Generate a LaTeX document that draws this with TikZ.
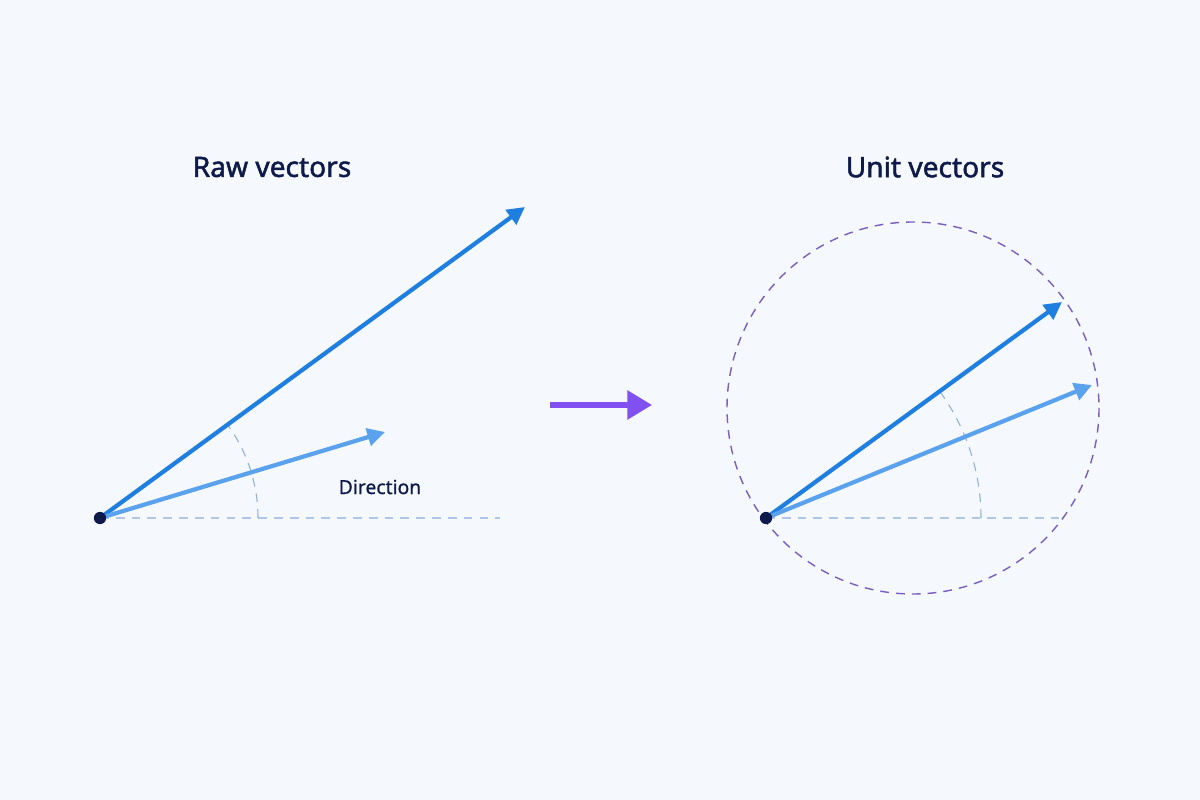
\documentclass[tikz,border=0pt]{standalone}
\usepackage{fontspec}
\setmainfont{Noto Sans}
\newfontfamily\medfont[FakeBold=1.6]{Noto Sans}
\newfontfamily\lblfont[FakeBold=0.8]{Noto Sans}
\usetikzlibrary{arrows.meta}
\definecolor{bg}{HTML}{F5F8FC}
\definecolor{vlong}{HTML}{1E7FE0}
\definecolor{vshort}{HTML}{5AA2EE}
\definecolor{navy}{HTML}{0D1A4A}
\definecolor{hdash}{HTML}{AFC6EA}
\definecolor{arcc}{HTML}{8DB0DD}
\definecolor{circ}{HTML}{7A5FC0}
\definecolor{mid}{HTML}{8050F0}
\tikzset{
  long/.style={vlong, line width=2.4pt, -{Triangle[length=10pt,width=10pt]}},
  short/.style={vshort, line width=2.4pt, -{Triangle[length=10pt,width=10pt]}},
  hd/.style={hdash, line width=0.6pt, dash pattern=on 5pt off 4pt},
  ad/.style={arcc, line width=0.6pt, dash pattern=on 5pt off 4pt},
  title/.style={text=navy, font=\medfont\fontsize{16}{18}\selectfont},
  dot/.style={circle, fill=navy, inner sep=0pt, minimum size=7pt}
}
\begin{document}
\begin{tikzpicture}[x=0.02cm,y=-0.02cm]
\fill[bg] (0,0) rectangle (1200,800);
\useasboundingbox (0,0) rectangle (1200,800);
% left
\node[title] (t1) at (272,167) {Raw vectors};
\coordinate (o1) at (100,518);
\coordinate (h1) at (500,518);
\coordinate (a1) at (525,207);
\coordinate (b1) at (385,432);
\draw[hd] (o1) -- (h1);
\draw[ad] (258,518) arc[start angle=0,end angle=-36.2,radius=158];
\draw[long] (o1) -- (a1);
\draw[short] (o1) -- (b1);
\node[dot] (d1) at (o1) {};
\node[text=navy, font=\lblfont\fontsize{11}{13}\selectfont] (dir) at (380,487) {Direction};
% middle
\coordinate (m1) at (550,405);
\coordinate (m2) at (652,405);
\draw[mid, line width=3pt, -{Triangle[length=14pt,width=16pt]}] (m1) -- (m2);
% right
\node[title] (t2) at (925,167) {Unit vectors};
\coordinate (o2) at (766,518);
\coordinate (h2) at (1060,518);
\coordinate (a2) at (1062,302);
\coordinate (b2) at (1092,385);
\draw[circ, line width=0.8pt, dash pattern=on 5pt off 4pt] (913,408) circle[radius=186];
\draw[hd] (o2) -- (h2);
\draw[ad] (981,518) arc[start angle=0,end angle=-36.1,radius=215];
\draw[long] (o2) -- (a2);
\draw[short] (o2) -- (b2);
\node[dot] (d2) at (o2) {};
\end{tikzpicture}
\end{document}
